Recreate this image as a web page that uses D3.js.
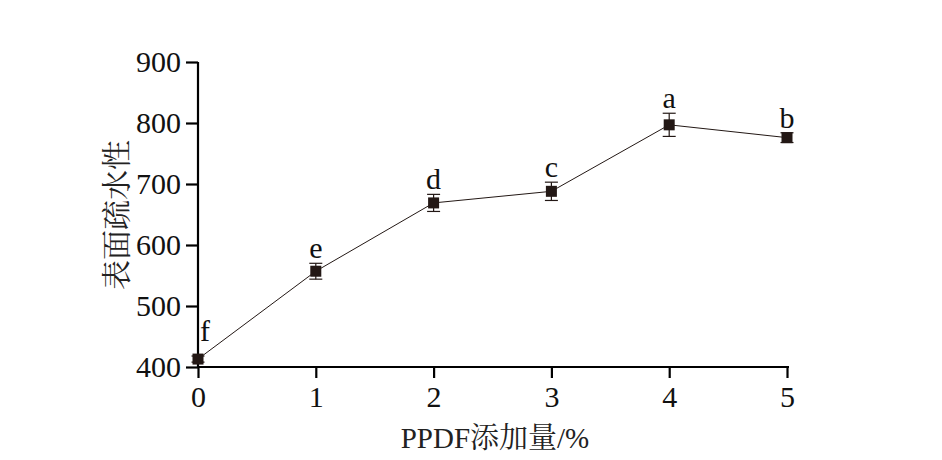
<!DOCTYPE html>
<html><head><meta charset="utf-8">
<script src="https://cdn.jsdelivr.net/npm/d3@7"></script>
<style>body{margin:0;background:#fff}</style>
</head><body>
<svg id="c" width="942" height="460"></svg>
<script>
const xValues = [0, 1, 2, 3, 4, 5];
const yValues = [413, 557, 669, 688, 797, 776];
const yErrors = [5, 13, 14, 15, 19, 8];
const sigLetters = ["f", "e", "d", "c", "a", "b"];
const yTicks = [400, 500, 600, 700, 800, 900];
const xTicks = [0, 1, 2, 3, 4, 5];
const xTitle = "PPDF添加量/%";
const yTitle = "表面疏水性";

const svg = d3.select("#c");
const x = d3.scaleLinear().domain([0, 5]).range([198, 787]);
const y = d3.scaleLinear().domain([400, 900]).range([367, 62]);
const serif = "'Liberation Serif','Times New Roman',serif";
const ink = "#231815";

const gx = svg.append("g").attr("transform", "translate(0,367)")
  .call(d3.axisBottom(x).tickValues(xTicks).tickSize(11).tickPadding(8).tickFormat(d3.format("d")));
const gy = svg.append("g").attr("transform", "translate(198,0)")
  .call(d3.axisLeft(y).tickValues(yTicks).tickSize(12).tickPadding(5).tickFormat(d3.format("d")));
[gx, gy].forEach(g => {
  g.select(".domain").attr("stroke", "#000").attr("stroke-width", 2.2);
  g.selectAll(".tick line").attr("stroke", "#000").attr("stroke-width", 2.2);
  g.selectAll(".tick text").attr("fill", "#111").style("font-family", serif).style("font-size", "30px");
});
gx.select(".domain").attr("d", `M${x(0)},0H${x(5)+2}`);
gy.select(".domain").attr("d", `M0,${y(900)}V${y(400)}`);

const data = xValues.map((v, i) => ({x: v, y: yValues[i], e: yErrors[i], l: sigLetters[i]}));

svg.append("path").datum(data)
  .attr("fill", "none").attr("stroke", ink).attr("stroke-width", 1)
  .attr("d", d3.line().x(d => x(d.x)).y(d => y(d.y)));

const eb = svg.append("g").attr("stroke", ink).attr("stroke-width", 1.2);
data.forEach(d => {
  eb.append("line").attr("x1", x(d.x)).attr("x2", x(d.x)).attr("y1", y(d.y - d.e)).attr("y2", y(d.y + d.e));
  [d.y - d.e, d.y + d.e].forEach(v => eb.append("line")
    .attr("x1", x(d.x) - 6.5).attr("x2", x(d.x) + 6.5).attr("y1", y(v)).attr("y2", y(v)));
});

svg.append("g").selectAll("rect").data(data).join("rect")
  .attr("x", d => x(d.x) - 5.5).attr("y", d => y(d.y) - 5.5)
  .attr("width", 11).attr("height", 11).attr("fill", ink);

svg.append("g").selectAll("text").data(data).join("text")
  .attr("x", (d, i) => x(d.x) + (i === 0 ? 7 : 0))
  .attr("y", (d, i) => i === 0 ? y(d.y) - 18 : y(d.y + d.e) - 5)
  .attr("text-anchor", "middle").attr("fill", "#111")
  .style("font-family", serif).style("font-size", "30px").text(d => d.l);

svg.append("text").attr("x", 495).attr("y", 448).attr("text-anchor", "middle")
  .attr("fill", "#222").style("font-size", "29px")
  .style("font-family", "'Liberation Serif','Noto Serif CJK SC','Noto Sans CJK SC',serif").text(xTitle);

svg.append("text").attr("transform", "translate(127,215) rotate(-90)").attr("text-anchor", "middle")
  .attr("fill", "#222").style("font-size", "30px")
  .style("font-family", "'Noto Serif CJK SC','Noto Sans CJK SC',serif").text(yTitle);
</script>
</body></html>
